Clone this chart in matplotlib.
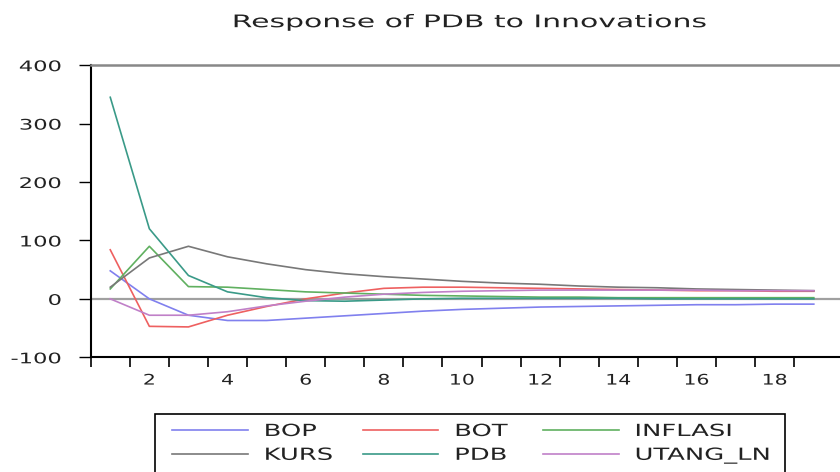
import numpy as np
import matplotlib
matplotlib.use('Agg')
import matplotlib.pyplot as plt
from matplotlib.patheffects import AbstractPathEffect
from matplotlib.transforms import Affine2D
from matplotlib.patches import Rectangle

periods = np.arange(1, 20)
BOP = [48, 0, -28, -37, -37, -33, -29, -25, -21, -18, -16, -14, -13, -12, -11, -10, -10, -9, -9]
BOT = [84, -47, -48, -28, -13, 0, 10, 18, 20, 20, 19, 18, 17, 16, 15, 14, 14, 13, 13]
INFLASI = [17, 90, 21, 20, 16, 12, 10, 8, 6, 5, 4, 3, 3, 2, 2, 2, 2, 2, 2]
KURS = [20, 70, 90, 72, 60, 50, 43, 38, 34, 30, 27, 25, 22, 20, 19, 17, 16, 15, 14]
PDB = [345, 120, 40, 12, 2, -3, -4, -2, 0, 1, 1, 1, 1, 1, 0, 0, 0, 0, 0]
UTANG_LN = [0, -28, -28, -22, -12, -4, 3, 8, 11, 13, 14, 15, 15, 15, 15, 15, 14, 14, 14]

names = ['BOP', 'BOT', 'INFLASI', 'KURS', 'PDB', 'UTANG_LN']
series = [BOP, BOT, INFLASI, KURS, PDB, UTANG_LN]
colors = ['#8080ee', '#ee6060', '#60b060', '#787878', '#3a9a88', '#c080c8']

class Wide(AbstractPathEffect):
    # horizontally stretched lettering like the EViews export; frac = fixed point (0 left, .5 centre, 1 right)
    def __init__(self, sx, frac):
        super().__init__()
        self.sx = sx; self.frac = frac
    def draw_path(self, renderer, gc, tpath, affine, rgbFace=None):
        ext = tpath.get_extents()
        px = ext.x0 + self.frac * ext.width
        t = Affine2D().translate(-px, 0).scale(self.sx, 1).translate(px, 0) + affine
        renderer.draw_path(gc, tpath, t, rgbFace)

plt.rcParams['font.family'] = ['DejaVu Sans']
plt.rcParams['axes.unicode_minus'] = False
fig = plt.figure(figsize=(8.4, 4.72), dpi=100)
ax = fig.add_axes([0.108, 0.243, 0.892, 0.619])

ax.axhline(0, color='#a0a0a0', lw=1.6, zorder=1)
lines = {}
for n, s, c in zip(names, series, colors):
    lines[n], = ax.plot(periods, s, color=c, lw=1.2, label=n, zorder=2)

ax.set_xlim(0.5, 19.67)
ax.set_ylim(-100, 400)
ax.set_yticks([-100, 0, 100, 200, 300, 400])
ax.tick_params(axis='y', length=9, width=1, pad=12, labelsize=10.5, labelcolor='#222222')
# ticks at half periods, labels on even periods without ticks
ax.set_xticks(np.arange(0.5, 19.5, 1.0))
ax.set_xticklabels([])
ax.set_xticks(np.arange(2, 20, 2), minor=True)
ax.set_xticklabels([str(v) for v in range(2, 20, 2)], minor=True)
ax.tick_params(axis='x', which='major', length=7, width=1.2, direction='out')
ax.tick_params(axis='x', which='minor', length=0, pad=11, labelsize=10.5, labelcolor='#222222')
for t in ax.get_yticklabels():
    t.set_path_effects([Wide(1.55, 1.0)])
for t in ax.get_xticklabels(minor=True):
    t.set_path_effects([Wide(1.4, 0.5)])

ax.spines['right'].set_visible(False)
ax.spines['top'].set_color('#888888')
ax.spines['top'].set_linewidth(1.8)
ax.spines['left'].set_linewidth(1.5)
ax.spines['bottom'].set_linewidth(1.5)

fig.text(0.56, 0.953, 'Response of PDB to Innovations', ha='center', va='center', fontsize=12.5,
         color='#222222', path_effects=[Wide(1.72, 0.5)])

# legend filled row by row like the original; box drawn separately since the labels are stretched
order = ['BOP', 'KURS', 'BOT', 'PDB', 'INFLASI', 'UTANG_LN']
leg = fig.legend([lines[n] for n in order], order, loc='upper left', bbox_to_anchor=(0.2048, 0.106),
                 ncol=3, handlelength=4.55, handletextpad=1.0, columnspacing=3.2, frameon=False,
                 fontsize=12, borderaxespad=0, borderpad=0, labelspacing=0.35)
for t in leg.get_texts():
    t.set_color('#222222')
    t.set_path_effects([Wide(1.55, 0.0)])
fig.add_artist(Rectangle((0.1845, -0.05), 0.75, 0.173, transform=fig.transFigure,
                         fill=False, ec='black', lw=1.2))

fig.savefig('out.png', dpi=100)
